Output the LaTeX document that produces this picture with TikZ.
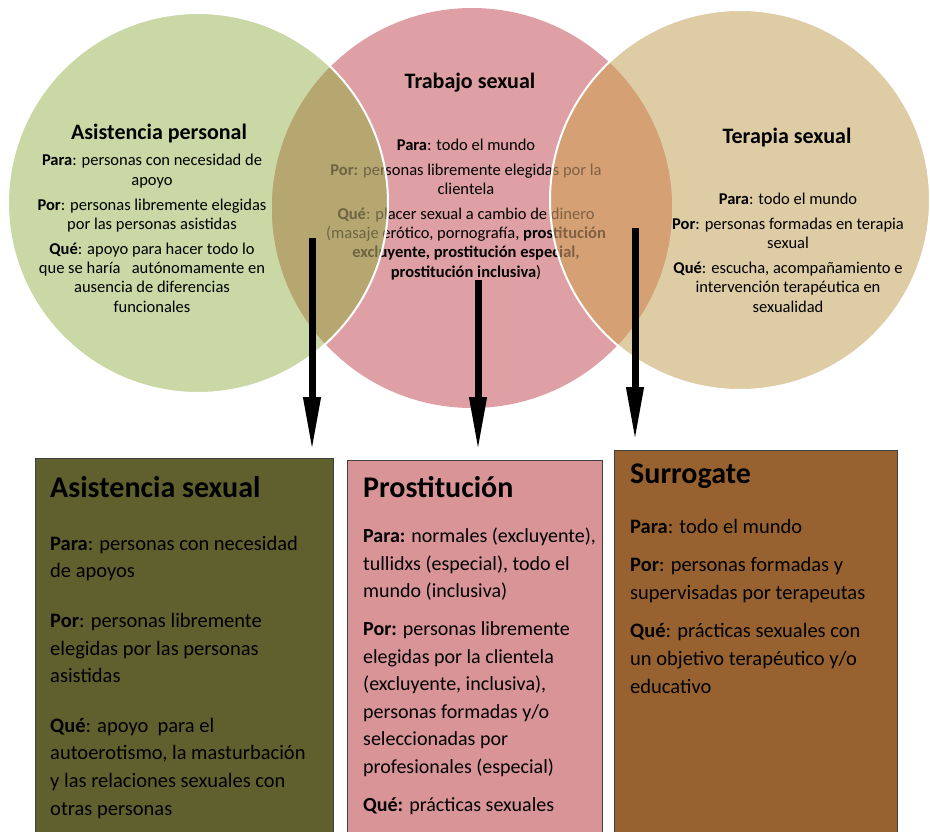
\documentclass[tikz,border=0pt]{standalone}
\usepackage{fontspec}
\setmainfont{Carlito}
\usetikzlibrary{arrows.meta}
\definecolor{vgreen}{RGB}{201,216,164}
\definecolor{vpink}{RGB}{222,160,164}
\definecolor{vtan}{RGB}{222,204,165}
\definecolor{volive}{RGB}{182,167,113}
\definecolor{vorange}{RGB}{213,161,116}
\definecolor{bolive}{RGB}{96,96,47}
\definecolor{bpink}{RGB}{217,148,152}
\definecolor{bbrown}{RGB}{152,98,48}
\tikzset{
  ctitle/.style={font=\fontsize{22}{26}\selectfont\bfseries, anchor=base, inner sep=0pt},
  ctext/.style={font=\fontsize{16.5}{19.3}\selectfont, align=center, anchor=base, inner sep=0pt},
  btitle/.style={font=\fontsize{30}{34}\selectfont\bfseries, anchor=base west, inner sep=0pt},
  btext/.style={font=\fontsize{20.5}{27.6}\selectfont, align=left, anchor=base west, inner sep=0pt},
  bbox/.style={draw=black!75, line width=0.8pt, anchor=north west, minimum height=420pt, inner sep=0pt},
  bigarrow/.style={line width=7pt, -{Triangle[length=55pt,width=16pt]}},
}
\begin{document}
\begin{tikzpicture}[x=1pt, y=-1pt]
  \useasboundingbox (0,0) rectangle (930,832);
  % the three circles
  \coordinate (cg) at (198,203);
  \coordinate (cp) at (472,208);
  \coordinate (ct) at (740,200);
  \fill[vgreen] (cg) circle[radius=190pt];
  \fill[vtan] (ct) circle[radius=190pt];
  \fill[vpink] (cp) circle[radius=200pt];
  \begin{scope}
    \clip (cg) circle[radius=190pt];
    \fill[volive] (cp) circle[radius=200pt];
  \end{scope}
  \begin{scope}
    \clip (ct) circle[radius=190pt];
    \fill[vorange] (cp) circle[radius=200pt];
  \end{scope}

  % circle texts (base = last line)
  \node[ctitle] (apers) at (159,140) {Asistencia personal};
  \node[ctext] (apersx) at (152,312) {\textbf{Para}: personas con necesidad de\\ apoyo\\[5.5pt]
    \textbf{Por}: personas libremente elegidas\\ por las personas asistidas\\[5.5pt]
    \textbf{Qué}: apoyo para hacer todo lo\\ que se haría\ \ \ autónomamente en\\ ausencia de diferencias\\ funcionales};
  \node[ctitle] (tsex) at (470,89) {Trabajo sexual};
  \node[ctext] (tsexx) at (466,277) {\textbf{Para}: todo el mundo\\[5.5pt]
    \textbf{Por:} personas libremente elegidas por la\\ clientela\\[5.5pt]
    \textbf{Qué}: placer sexual a cambio de dinero\\ (masaje erótico, pornografía, \textbf{prostitución}\\
    \textbf{excluyente, prostitución especial,}\\ \textbf{prostitución inclusiva})};
  \node[ctitle] (tera) at (787,144) {Terapia sexual};
  \node[ctext] (terax) at (788,312) {\textbf{Para}: todo el mundo\\[5.5pt]
    \textbf{Por}: personas formadas en terapia\\ sexual\\[5.5pt]
    \textbf{Qué}: escucha, acompañamiento e\\ intervención terapéutica en\\ sexualidad};

  % overlaps fade the text, white rims
  \begin{scope}[fill opacity=0.6]
    \clip (cg) circle[radius=190pt];
    \fill[volive] (cp) circle[radius=200pt];
  \end{scope}
  \begin{scope}[fill opacity=0.6]
    \clip (ct) circle[radius=190pt];
    \fill[vorange] (cp) circle[radius=200pt];
  \end{scope}
  \draw[white, line width=2pt] (cg) circle[radius=190pt];
  \draw[white, line width=2pt] (ct) circle[radius=190pt];

  % boxes
  \node[bbox, fill=bolive, minimum width=298pt] (asex) at (35,458) {};
  \node[bbox, fill=bpink, minimum width=255pt] (prost) at (347,460) {};
  \node[bbox, fill=bbrown, minimum width=283pt] (surr) at (614,450) {};

  \node[btitle] (asext) at (50,497) {Asistencia sexual};
  \node[btext] (asexx) at (50,815) {\textbf{Para}: personas con necesidad\\ de apoyos\\[22pt]
    \textbf{Por}: personas libremente\\ elegidas por las personas\\ asistidas\\[22pt]
    \textbf{Qué}: apoyo\ \ para el\\ autoerotismo, la masturbación\\ y las relaciones sexuales con\\ otras personas};
  \node[btitle] (prostt) at (363,497) {Prostitución};
  \node[btext, font=\fontsize{20}{27.6}\selectfont] (prostx) at (363,811) {\textbf{Para:} normales (excluyente),\\ tullidxs (especial), todo el\\ mundo (inclusiva)\\[10pt]
    \textbf{Por:} personas libremente\\ elegidas por la clientela\\ (excluyente, inclusiva),\\ personas formadas y/o\\ seleccionadas por\\ profesionales (especial)\\[10pt]
    \textbf{Qué:} prácticas sexuales};
  \node[btitle] (surrt) at (630,483) {Surrogate};
  \node[btext] (surrx) at (630,693) {\textbf{Para}: todo el mundo\\[11pt]
    \textbf{Por}: personas formadas y\\ supervisadas por terapeutas\\[11pt]
    \textbf{Qué}: prácticas sexuales con\\ un objetivo terapéutico y/o\\ educativo};

  % arrows
  \coordinate (a1) at (312,238);
  \coordinate (a2) at (478,280);
  \coordinate (a3) at (635,228);
  \draw[bigarrow, shorten >=6pt] (a1) -- (a1 |- asex.north);
  \draw[bigarrow, shorten >=8pt] (a2) -- (a2 |- prost.north);
  \draw[bigarrow, shorten >=8pt] (a3) -- (a3 |- surr.north);
\end{tikzpicture}
\end{document}
